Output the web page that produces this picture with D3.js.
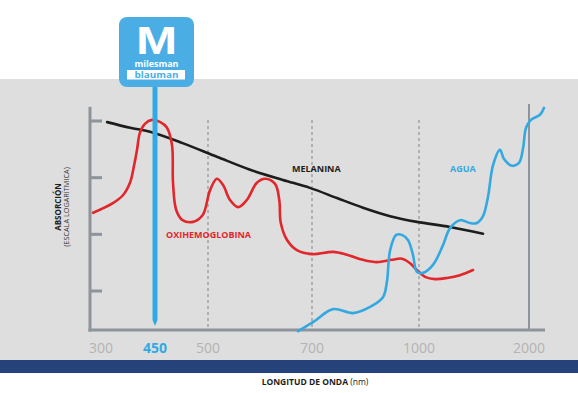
<!DOCTYPE html>
<html><head><meta charset="utf-8">
<script src="https://cdn.jsdelivr.net/npm/d3@7"></script>
<style>body{margin:0;background:#fff}svg{display:block}</style>
</head><body>
<svg id="c" width="578" height="393"></svg>
<script>
// ---- data ----
const xTicks = [300, 450, 500, 700, 1000, 2000];
const xTickLabels = ["300", "450", "500", "700", "1000", "2000"];
const dashedTicks = [500, 700, 1000];
const yTicks = [1, 2, 3, 4];
const highlightWavelength = 450;

const oxyNm = [278,333,361,381,392,400,408,422,442,455,461,466,467,470,476,486,495,504,517,529,542,558,575,594,610,629,637,640,652,671,700,759,798,843,882,924,952,975,994,1055,1145,1255,1373,1491];
const oxyAbs = [2.38,2.55,2.69,2.92,3.22,3.49,3.79,3.95,4.02,3.98,3.89,3.58,2.91,2.43,2.25,2.22,2.34,2.78,2.98,2.87,2.61,2.48,2.61,2.91,2.98,2.89,2.61,2.20,1.90,1.72,1.65,1.69,1.64,1.55,1.51,1.55,1.57,1.49,1.37,1.25,1.21,1.23,1.28,1.37];

const melNm = [317,381,436,476,517,581,644,696,770,843,919,994,1282,1582];
const melAbs = [3.98,3.88,3.81,3.61,3.37,3.14,2.96,2.82,2.64,2.47,2.32,2.22,2.13,2.01];

const aguaNm = [673,703,759,815,863,899,910,919,936,952,969,983,994,1036,1127,1218,1282,1373,1464,1527,1582,1627,1673,1736,1773,1846,1909,1946,1973,2018,2100,2136];
const aguaAbs = [0.29,0.45,0.68,0.61,0.72,0.89,1.16,1.72,1.99,1.99,1.90,1.64,1.34,1.32,1.46,1.81,2.11,2.25,2.20,2.20,2.32,2.66,3.22,3.49,3.33,3.21,3.26,3.52,3.88,4.02,4.11,4.23];

// ---- layout ----
const svg = d3.select("#c");
const C = {bg:"#dedede", axis:"#8e949b", red:"#e1262c", blue:"#34a9e1", black:"#1d1d1b", navy:"#26427b", tick:"#b3b3b3", logo:"#4aaee5"};
const x = d3.scaleLinear().domain(xTicks).range([101,155,208,312,419,529]);
const y = d3.scaleLinear().domain([1,4]).range([291,121]);
const yMin = 0.31, yTop = 4.25;
const axisX = 90, axisY = y(yMin);

svg.append("rect").attr("x",0).attr("y",79).attr("width",578).attr("height",281).attr("fill",C.bg);
svg.append("rect").attr("x",0).attr("y",360).attr("width",578).attr("height",13).attr("fill",C.navy);

// dashed gridlines
svg.selectAll(".dash").data(dashedTicks).join("line")
  .attr("x1",d=>x(d)).attr("x2",d=>x(d)).attr("y1",120).attr("y2",axisY)
  .attr("stroke",C.axis).attr("stroke-width",1.2).attr("stroke-dasharray","3,3");
svg.append("line").attr("x1",x(2000)).attr("x2",x(2000)).attr("y1",104).attr("y2",axisY)
  .attr("stroke",C.axis).attr("stroke-width",2);

// axes
svg.append("line").attr("x1",axisX).attr("x2",axisX).attr("y1",y(yTop)).attr("y2",axisY+1.5)
  .attr("stroke",C.axis).attr("stroke-width",3);
svg.append("line").attr("x1",axisX-1.5).attr("x2",545).attr("y1",axisY).attr("y2",axisY)
  .attr("stroke",C.axis).attr("stroke-width",3);
svg.selectAll(".yt").data(yTicks).join("line")
  .attr("x1",axisX).attr("x2",axisX+12).attr("y1",d=>y(d)).attr("y2",d=>y(d))
  .attr("stroke",C.axis).attr("stroke-width",3);

svg.selectAll(".xl").data(xTicks).join("text")
  .attr("x",d=>x(d)).attr("y",353).attr("text-anchor","middle")
  .attr("font-family","'Open Sans', sans-serif").attr("font-size",14)
  .attr("font-weight",(d)=>d===highlightWavelength?700:400)
  .attr("fill",d=>d===highlightWavelength?C.blue:C.tick)
  .text((d,i)=>xTickLabels[i]);

// axis titles
const xt = svg.append("text").attr("x",315).attr("y",385).attr("text-anchor","middle")
  .attr("font-family","'Open Sans', sans-serif").attr("font-size",8.5).attr("fill","#1d1d1b");
xt.append("tspan").attr("font-weight",700).text("LONGITUD DE ONDA ");
xt.append("tspan").text("(nm)");
const yt = svg.append("g").attr("transform","translate(0,207) rotate(-90)");
yt.append("text").attr("x",0).attr("y",61).attr("text-anchor","middle")
  .attr("font-family","'Open Sans', sans-serif").attr("font-size",8).attr("font-weight",700)
  .attr("fill","#1d1d1b").text("ABSORCIÓN");
yt.append("text").attr("x",0).attr("y",69).attr("text-anchor","middle")
  .attr("font-family","'Open Sans', sans-serif").attr("font-size",7.3)
  .attr("fill","#333").text("(ESCALA LOGARÍTMICA)");

// curves
const line = d3.line().x(d=>x(d[0])).y(d=>y(d[1])).curve(d3.curveCatmullRom.alpha(0.5));
function draw(nm, ab, col){
  svg.append("path").datum(nm.map((n,i)=>[n,ab[i]])).attr("d",line)
    .attr("fill","none").attr("stroke",col).attr("stroke-width",2.6).attr("stroke-linecap","round");
}
draw(melNm, melAbs, C.black);
draw(oxyNm, oxyAbs, C.red);
draw(aguaNm, aguaAbs, C.blue);

// labels
function lab(t,xx,yy,col){
  svg.append("text").attr("x",xx).attr("y",yy).attr("font-family","'Open Sans', sans-serif")
    .attr("font-size",9).attr("font-weight",700).attr("fill",col).text(t);
}
lab("MELANINA",292,172,C.black);
lab("OXIHEMOGLOBINA",166,238,C.red);
lab("AGUA",450,172,C.blue);

// highlight line at 450 + logo
const hx = x(highlightWavelength);
svg.append("path").attr("d",`M${hx-2.5},86 L${hx+2.5},86 L${hx+2.5},320 L${hx},326 L${hx-2.5},320 Z`).attr("fill",C.blue);
svg.append("rect").attr("x",119).attr("y",17).attr("width",75).attr("height",70).attr("rx",8).attr("fill",C.logo);
svg.append("text").attr("x",156.5).attr("y",54).attr("text-anchor","middle")
  .attr("font-family","'Liberation Sans', Arial, sans-serif").attr("font-weight",700).attr("font-size",38)
  .attr("fill","#fff").attr("transform","translate(156.5,54) scale(1.3,1) translate(-156.5,-54)").text("M");
svg.append("text").attr("x",156.5).attr("y",67).attr("text-anchor","middle")
  .attr("font-family","'Open Sans', sans-serif").attr("font-weight",700).attr("font-size",8.5)
  .attr("fill","#fff").attr("textLength",44).attr("lengthAdjust","spacingAndGlyphs").text("milesman");
svg.append("rect").attr("x",127).attr("y",70).attr("width",58).attr("height",9.5).attr("fill","#fff");
svg.append("text").attr("x",156.5).attr("y",78.3).attr("text-anchor","middle")
  .attr("font-family","'Open Sans', sans-serif").attr("font-weight",700).attr("font-size",8.5)
  .attr("fill",C.logo).attr("textLength",44).attr("lengthAdjust","spacingAndGlyphs").text("blauman");
</script>
</body></html>
